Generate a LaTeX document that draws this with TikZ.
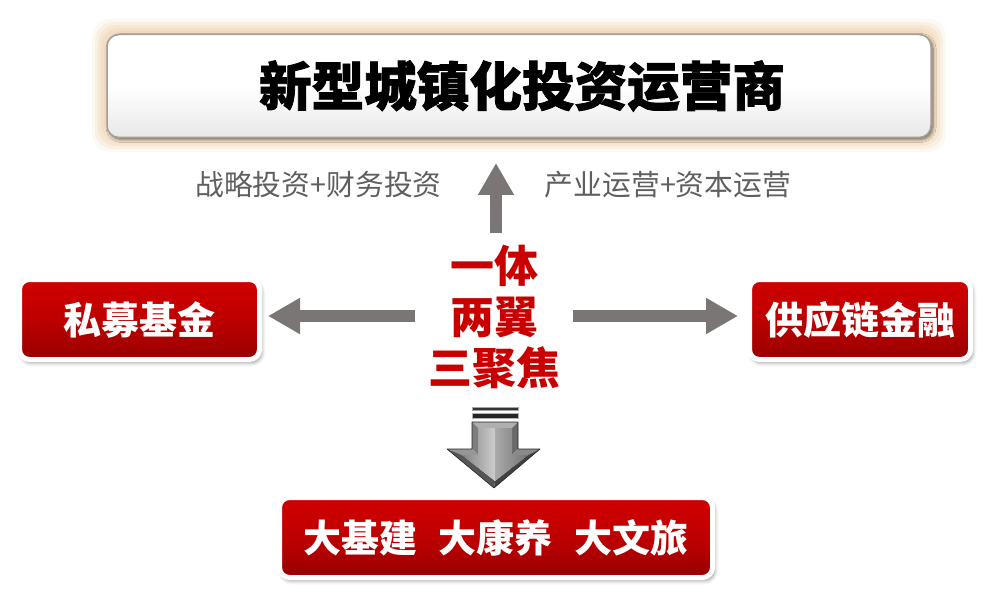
\documentclass[tikz,border=0pt]{standalone}
\usepackage{fontspec}
\newfontfamily\cjk{Noto Sans CJK SC}
\newfontfamily\cjkh[FakeBold=1.5]{Noto Sans CJK SC}
\usetikzlibrary{arrows.meta,shadows.blur}
\definecolor{arrgray}{RGB}{122,118,117}
\definecolor{txtgray}{RGB}{95,95,95}
\definecolor{redtxt}{RGB}{200,0,0}
\definecolor{rtop}{RGB}{208,0,0}
\definecolor{rmid}{RGB}{190,0,0}
\definecolor{rbot}{RGB}{150,0,0}
\definecolor{glowc}{RGB}{236,205,165}
\definecolor{fTop}{RGB}{175,175,175}
\definecolor{fL}{RGB}{125,125,125}
\definecolor{fR}{RGB}{105,105,105}
\definecolor{fHL}{RGB}{150,150,150}
\definecolor{fHR}{RGB}{138,138,138}
\definecolor{fBL}{RGB}{85,85,85}
\definecolor{fBR}{RGB}{65,65,65}
\definecolor{iL1}{RGB}{130,130,130}
\definecolor{iL2}{RGB}{205,205,205}
\definecolor{iR1}{RGB}{170,170,170}
\definecolor{iR2}{RGB}{115,115,115}
\tikzset{
  redbox/.style={draw=white, line width=5pt, rounded corners=10pt,
    top color=rtop, bottom color=rbot, middle color=rmid,
    blur shadow={shadow xshift=2pt, shadow yshift=-3pt, shadow blur radius=4pt, shadow opacity=45},
    text=white, font=\cjk\bfseries\fontsize{38}{38}\selectfont, inner sep=0pt},
  graylbl/.style={text=txtgray, font=\cjk\fontsize{28.8}{28.8}\selectfont, inner sep=0pt},
  garrow/.style={draw=arrgray, line width=12pt, -{Triangle[length=32pt,width=34pt]}},
}
\begin{document}
\begin{tikzpicture}[x=1pt,y=-1pt]
\useasboundingbox (0,0) rectangle (1002,607);
% glow around title box
\foreach \d/\o in {14/0.14,11/0.18,8/0.25,5/0.32,2/0.4}{
  \fill[glowc, opacity=\o, rounded corners=18pt] (106-\d,33-\d) rectangle (932+\d,138+\d);
}
% title box
\node[draw=gray!75, line width=1.5pt, rounded corners=12pt, top color=white, bottom color=gray!18,
      middle color=white, minimum width=824pt, minimum height=103pt, inner sep=0pt,
      blur shadow={shadow xshift=2pt, shadow yshift=-2pt, shadow blur radius=3pt, shadow opacity=50},
      text=black]
  (top) at (519,86) {};
\node[font=\cjkh\bfseries\fontsize{52.6}{52.6}\selectfont, inner sep=0pt] (title) at (522,86) {新型城镇化投资运营商};
% labels
\node[graylbl] (lblL) at (318.5,185) {战略投资+财务投资};
\node[graylbl] (lblR) at (668,185) {产业运营+资本运营};
% core text
\node[text=redtxt, font=\cjk\bfseries\fontsize{44}{51}\selectfont, align=center, inner sep=0pt]
  (core) at (494,317) {一体\\两翼\\三聚焦};
% side boxes
\node[redbox, minimum width=240pt, minimum height=80pt] (pe) at (139.5,319.5) {私募基金};
\node[redbox, minimum width=221pt, minimum height=80pt] (scf) at (860,319.5) {供应链金融};
\node[redbox, minimum width=433pt, minimum height=80pt] (big) at (496,537.5) {大基建\hspace{22pt}大康养\hspace{22pt}大文旅};
% arrows
\coordinate (upS) at (496,233); \coordinate (upE) at (496,163);
\coordinate (lS) at (415,316);  \coordinate (lE) at (268,316);
\coordinate (rS) at (573,316);  \coordinate (rE) at (738,316);
\draw[garrow] (upS) -- (upE);
\draw[garrow] (lS) -- (lE);
\draw[garrow] (rS) -- (rE);
% 3D down arrow
\fill[gray!40!black, draw=gray!70, line width=0.4pt] (472,407) rectangle (518,410.5);
\fill[gray!30!black, draw=gray!60, line width=0.4pt] (472,413) rectangle (518,418);
\fill[fTop] (472,422) -- (518,422) -- (512,428) -- (478,428) -- cycle;
\fill[fL] (472,422) -- (478,428) -- (478,455) -- (472,449) -- cycle;
\fill[fR] (518,422) -- (512,428) -- (512,455) -- (518,449) -- cycle;
\fill[fHL] (447,449) -- (472,449) -- (478,455) -- (462,455) -- cycle;
\fill[fHR] (518,449) -- (540,449) -- (528,455) -- (512,455) -- cycle;
\fill[fBL] (447,449) -- (462,455) -- (495,481) -- (494,488) -- cycle;
\fill[fBR] (540,449) -- (494,488) -- (495,481) -- (528,455) -- cycle;
\shade[left color=iL1, right color=iL2] (478,428) -- (495,428) -- (495,481) -- (462,455) -- (478,455) -- cycle;
\shade[left color=iR1, right color=iR2] (495,428) -- (512,428) -- (512,455) -- (528,455) -- (495,481) -- cycle;
\draw[gray!30!black, line width=0.6pt, line join=round]
  (472,422) -- (518,422) -- (518,449) -- (540,449) -- (494,488) -- (447,449) -- (472,449) -- cycle;
\end{tikzpicture}
\end{document}
